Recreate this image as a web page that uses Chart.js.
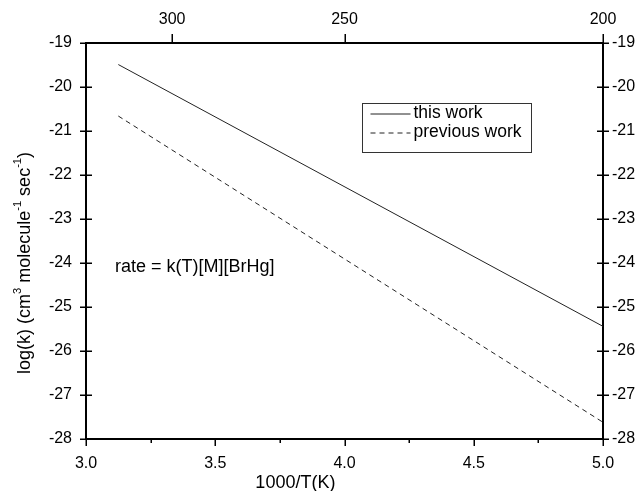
<!DOCTYPE html>
<html>
<head>
<meta charset="utf-8">
<script src="https://cdn.jsdelivr.net/npm/chart.js@4.4.1/dist/chart.umd.min.js"></script>
<style>
  html, body { margin: 0; padding: 0; background: #fff; }
  #wrap { width: 638px; height: 491px; position: relative; }
</style>
</head>
<body>
<div id="wrap"><canvas id="myChart"></canvas></div>
<script>
// DATA
const invT = [3.125, 5.0];             // 1000/T (K) at the line ends
const thisWork = [-19.49, -25.44];     // log(k), this work
const previousWork = [-20.66, -27.62]; // log(k), previous work
const tempTicks = [300, 250, 200];     // top axis, T (K)
const seriesNames = ["this work", "previous work"];
const rateNote = "rate = k(T)[M][BrHg]";

const FONT = "'Liberation Sans', Arial, sans-serif";

function points(ys) {
    return invT.map((x, i) => ({ x: x, y: ys[i] }));
}

// TICK MARKS (major / minor, crossing on the y axes)
const tickMarks = {
    id: "tickMarks",
    afterDraw(chart) {
        const ctx = chart.ctx;
        const s = chart.scales;
        const a = chart.chartArea;
        ctx.save();
        ctx.strokeStyle = "#000";
        ctx.lineWidth = 1.5;
        ctx.beginPath();
        s.x.ticks.forEach(t => {
            const px = Math.round(s.x.getPixelForValue(t.value)) + 0.25;
            const major = Math.abs(t.value * 2 - Math.round(t.value * 2)) < 1e-6;
            ctx.moveTo(px, a.bottom);
            ctx.lineTo(px, a.bottom + (major ? 7 : 4));
        });
        s.x2.ticks.forEach(t => {
            const px = Math.round(s.x2.getPixelForValue(t.value)) + 0.25;
            ctx.moveTo(px, a.top);
            ctx.lineTo(px, a.top - 9);
        });
        s.y.ticks.forEach(t => {
            const py = Math.round(s.y.getPixelForValue(t.value)) + 0.25;
            ctx.moveTo(a.left - 6, py);
            ctx.lineTo(a.left + 6, py);
            ctx.moveTo(a.right - 6, py);
            ctx.lineTo(a.right + 6, py);
        });
        ctx.stroke();
        ctx.restore();
    }
};

// AXIS TITLES, NOTE AND LEGEND BOX
function drawRich(ctx, parts, x, y, size) {
    let w = 0;
    parts.forEach(p => {
        ctx.font = (p.sup ? size * 0.62 : size) + "px " + FONT;
        w += ctx.measureText(p.t).width;
    });
    let cx = x - w / 2;
    parts.forEach(p => {
        ctx.font = (p.sup ? size * 0.62 : size) + "px " + FONT;
        ctx.fillText(p.t, cx, p.sup ? y - size * 0.38 : y);
        cx += ctx.measureText(p.t).width;
    });
}

const extras = {
    id: "extras",
    afterDraw(chart) {
        const ctx = chart.ctx;
        const s = chart.scales;
        ctx.save();
        ctx.fillStyle = "#000";
        ctx.textBaseline = "middle";

        // x title
        ctx.font = "18px " + FONT;
        ctx.textAlign = "center";
        ctx.fillText("1000/T(K)", s.x.getPixelForValue(3.81), 483);

        // y title (rotated, with superscripts)
        ctx.save();
        ctx.translate(25, s.y.getPixelForValue(-24.0));
        ctx.rotate(-Math.PI / 2);
        ctx.textAlign = "left";
        drawRich(ctx, [
            { t: "log(k) (cm" }, { t: "3", sup: true },
            { t: " molecule" }, { t: "-1", sup: true },
            { t: " sec" }, { t: "-1", sup: true }, { t: ")" }
        ], 0, 0, 18);
        ctx.restore();

        // rate note
        ctx.font = "18px " + FONT;
        ctx.textAlign = "left";
        ctx.fillText(rateNote, s.x.getPixelForValue(3.112), s.y.getPixelForValue(-24.1));

        // legend
        const bx = 362.5, by = 103.5, bw = 169, bh = 49;
        ctx.strokeStyle = "#333";
        ctx.lineWidth = 1;
        ctx.strokeRect(bx, by, bw, bh);
        chart.data.datasets.forEach((ds, i) => {
            const ly = by + 10 + i * 19;
            ctx.strokeStyle = "#222";
            ctx.setLineDash(ds.borderDash || []);
            ctx.beginPath();
            ctx.moveTo(bx + 8, ly + 0.5);
            ctx.lineTo(bx + 48, ly + 0.5);
            ctx.stroke();
            ctx.setLineDash([]);
            ctx.font = "17.5px " + FONT;
            ctx.fillText(ds.label, bx + 51, ly);
        });
        ctx.restore();
    }
};

const tickFont = { family: FONT, size: 16 };

const ctx1 = document.getElementById("myChart").getContext("2d");
const myChart = new Chart(ctx1, {
    type: "line",
    data: {
        datasets: [
            {
                label: seriesNames[0],
                data: points(thisWork),
                borderColor: "#222",
                borderWidth: 1,
                pointRadius: 0,
                fill: false,
            },
            {
                label: seriesNames[1],
                data: points(previousWork),
                borderColor: "#222",
                borderWidth: 1,
                borderDash: [5, 4],
                pointRadius: 0,
                fill: false,
            },
        ],
    },
    options: {
        responsive: true,
        maintainAspectRatio: false,
        animation: false,
        layout: { padding: 0 },
        plugins: {
            legend: { display: false },
            tooltip: { enabled: false },
        },
        scales: {
            x: {
                type: "linear",
                position: "bottom",
                min: 3,
                max: 5,
                grid: { display: false, drawTicks: false },
                border: { display: true, color: "#000", width: 2 },
                ticks: {
                    stepSize: 0.25,
                    autoSkip: false,
                    maxRotation: 0,
                    padding: 15,
                    color: "#000",
                    font: tickFont,
                    callback: (v) => (Math.abs(v * 2 - Math.round(v * 2)) < 1e-6 ? Number(v).toFixed(1) : ""),
                },
                afterFit: (scale) => { scale.height = 52; },
            },
            x2: {
                type: "linear",
                position: "top",
                min: 3,
                max: 5,
                grid: { display: false, drawTicks: false },
                border: { display: true, color: "#000", width: 2 },
                afterBuildTicks: (scale) => {
                    scale.ticks = tempTicks.map(T => ({ value: 1000 / T }));
                },
                ticks: {
                    autoSkip: false,
                    maxRotation: 0,
                    padding: 14,
                    color: "#000",
                    font: tickFont,
                    callback: (v) => String(Math.round(1000 / v)),
                },
                afterFit: (scale) => { scale.height = 43; },
            },
            y: {
                position: "left",
                min: -28,
                max: -19,
                grid: { display: false, drawTicks: false },
                border: { display: true, color: "#000", width: 2 },
                ticks: { stepSize: 1, padding: 14, color: "#000", font: tickFont },
                afterFit: (scale) => { scale.width = 86; },
            },
            y2: {
                position: "right",
                min: -28,
                max: -19,
                grid: { display: false, drawTicks: false },
                border: { display: true, color: "#000", width: 2 },
                ticks: { stepSize: 1, padding: 9, color: "#000", font: tickFont },
                afterFit: (scale) => { scale.width = 35; },
            },
        },
    },
    plugins: [tickMarks, extras],
});
</script>
</body>
</html>
